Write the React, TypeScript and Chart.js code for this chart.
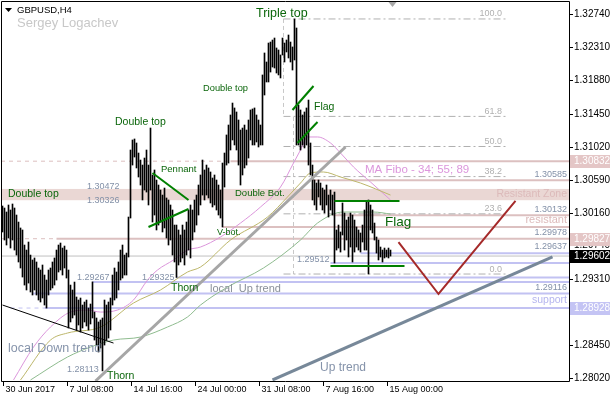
import React, { useEffect, useRef } from "react";
import { Chart, registerables } from "chart.js";

Chart.register(...registerables);

// ---------- data (H4 bars, index 0 = 30 Jun 2017 00:00) ----------
const barHigh = [
  1.30251, 1.30225, 1.30173, 1.30264, 1.30199, 1.30277, 1.30225, 1.30134, 1.30043, 1.29966,
  1.2994, 1.29745, 1.2968, 1.29784, 1.29615, 1.29551, 1.29577, 1.29525, 1.29447, 1.29421,
  1.29486, 1.29356, 1.29291, 1.29421, 1.29447, 1.29525, 1.29577, 1.2968, 1.29745, 1.29771,
  1.29706, 1.29732, 1.2968, 1.29421, 1.29226, 1.29162, 1.29265, 1.29071, 1.29032, 1.29058,
  1.28967, 1.29006, 1.29032, 1.28928, 1.2898, 1.29267, 1.28876, 1.28799, 1.28747, 1.28773,
  1.28799, 1.29032, 1.28967, 1.29006, 1.29058, 1.29356, 1.29447, 1.29395, 1.29525, 1.2968,
  1.29745, 1.29615, 1.29641, 1.30108, 1.30977, 1.31107, 1.3112, 1.31068, 1.30938, 1.30847,
  1.30782, 1.30873, 1.30977, 1.30782, 1.31262, 1.30653, 1.30718, 1.30588, 1.30523, 1.30458,
  1.30393, 1.30484, 1.30355, 1.30329, 1.30264, 1.30199, 1.30004, 1.30004, 1.2994, 1.29875,
  1.30004, 1.2994, 1.30043, 1.30199, 1.30264, 1.30199, 1.30329, 1.30393, 1.30523, 1.30653,
  1.30847, 1.30718, 1.30782, 1.30744, 1.30692, 1.30614, 1.30653, 1.30588, 1.30523, 1.30458,
  1.30808, 1.30938, 1.31172, 1.31301, 1.31431, 1.31586, 1.31522, 1.3147, 1.31366, 1.31236,
  1.31262, 1.31301, 1.31236, 1.31366, 1.31496, 1.31509, 1.31522, 1.31431, 1.31366, 1.31301,
  1.3195, 1.32235, 1.32118, 1.32364, 1.32377, 1.32403, 1.32429, 1.323, 1.32274, 1.32209,
  1.32429, 1.32364, 1.32403, 1.32468, 1.32377, 1.32313, 1.32676, 1.32559, 1.31561, 1.31496,
  1.31431, 1.3147, 1.31522, 1.31625, 1.31068, 1.30782, 1.30588, 1.30549, 1.30588, 1.30549,
  1.30484, 1.30458, 1.30523, 1.30393, 1.30458, 1.30393, 1.30432, 1.2994, 1.30004, 1.29914,
  1.3029, 1.3016, 1.30069, 1.30108, 1.3016, 1.30134, 1.30069, 1.29979, 1.2994, 1.29901,
  1.30004, 1.30199, 1.30303, 1.30329, 1.30264, 1.30199, 1.3003, 1.29849, 1.2981, 1.29719,
  1.2968, 1.29706, 1.2968, 1.29706, 1.2968,
];
const barLow = [
  1.29914, 1.2981, 1.29745, 1.29836, 1.29706, 1.2981, 1.2968, 1.29615, 1.29525, 1.29447,
  1.2933, 1.29226, 1.29162, 1.29252, 1.29136, 1.29097, 1.29162, 1.29097, 1.29032, 1.29006,
  1.29058, 1.28967, 1.28928, 1.29097, 1.29162, 1.29188, 1.29226, 1.29291, 1.29395, 1.29421,
  1.29356, 1.29447, 1.29317, 1.28669, 1.28747, 1.28799, 1.28837, 1.28643, 1.28708, 1.28617,
  1.28669, 1.28747, 1.28695, 1.28643, 1.28721, 1.28799, 1.28513, 1.28448, 1.28358, 1.2841,
  1.28113, 1.28448, 1.28513, 1.28539, 1.28643, 1.28967, 1.29032, 1.29058, 1.29162, 1.29291,
  1.29317, 1.29356, 1.29356, 1.2959, 1.30095, 1.30782, 1.30886, 1.30744, 1.30627, 1.30523,
  1.30329, 1.30458, 1.30432, 1.30264, 1.30458, 1.30043, 1.30134, 1.2994, 1.30004, 1.30043,
  1.29914, 1.29966, 1.29836, 1.29745, 1.2981, 1.29615, 1.29525, 1.29325, 1.29486, 1.29525,
  1.29577, 1.29486, 1.29615, 1.2968, 1.29577, 1.2981, 1.29914, 1.30004, 1.30134, 1.30264,
  1.30393, 1.30329, 1.30393, 1.30355, 1.3029, 1.30238, 1.30264, 1.30199, 1.30134, 1.30095,
  1.29979, 1.30497, 1.30782, 1.30808, 1.30977, 1.31107, 1.31042, 1.30977, 1.30782, 1.30523,
  1.30653, 1.30744, 1.30782, 1.30873, 1.31107, 1.31042, 1.31042, 1.31081, 1.31016, 1.31042,
  1.31042, 1.3169, 1.31859, 1.31859, 1.31988, 1.32053, 1.3204, 1.31975, 1.3195, 1.31911,
  1.32209, 1.32118, 1.32248, 1.3217, 1.32118, 1.32014, 1.32144, 1.31042, 1.31042, 1.30977,
  1.31042, 1.31003, 1.31042, 1.30782, 1.30653, 1.30329, 1.30264, 1.30199, 1.30368, 1.30264,
  1.30199, 1.3016, 1.30264, 1.30108, 1.30199, 1.30134, 1.29512, 1.2968, 1.29706, 1.29654,
  1.29875, 1.2968, 1.2981, 1.2959, 1.29719, 1.29525, 1.29654, 1.29719, 1.2968, 1.29654,
  1.29784, 1.2968, 1.2968, 1.29369, 1.2994, 1.29901, 1.2981, 1.29641, 1.29551, 1.2959,
  1.29525, 1.29577, 1.2959, 1.29577, 1.29602,
];

// moving averages [bar index, value]
const ma34 = [
  [5.5, 1.27995], [15.5, 1.28422], [24, 1.28682], [34, 1.28876], [42.5, 1.28902], [49, 1.28876],
  [57.5, 1.28902], [65.5, 1.29032], [72.5, 1.29291], [77.5, 1.29421], [85.5, 1.29551], [92.5, 1.2968],
  [99, 1.29719], [109, 1.29849], [119, 1.3003], [129, 1.30238], [139, 1.30497], [145.5, 1.30808],
  [149, 1.30977], [152.5, 1.31146], [157.5, 1.31146], [164, 1.31068], [169, 1.30938], [175.5, 1.30757],
  [184, 1.30562], [194, 1.30329],
];
const ma55 = [
  [9, 1.27995], [24, 1.28513], [32.5, 1.28604], [49, 1.28682], [65.5, 1.28993], [79, 1.29162],
  [92.5, 1.29395], [99, 1.2946], [114, 1.2981], [132.5, 1.30108], [142.5, 1.30368], [149, 1.30549],
  [154, 1.30679], [160.5, 1.30692], [169, 1.30627], [179, 1.30549], [194, 1.30393],
];
const ma89 = [
  [14, 1.27995], [32.5, 1.28293], [44, 1.28422], [55.5, 1.28513], [69, 1.28552], [82.5, 1.28682],
  [92.5, 1.28812], [99, 1.28967], [112.5, 1.292], [130.5, 1.29447], [149, 1.2981], [157.5, 1.3003],
  [170.5, 1.30173], [185.5, 1.30173], [194, 1.30147],
];

// axes
const xTickBars = [0, 32, 64, 96, 128, 160, 192];
const xTickLabels = ["30 Jun 2017", "7 Jul 08:00", "14 Jul 16:00", "24 Jul 00:00", "31 Jul 08:00", "7 Aug 16:00", "15 Aug 00:00"];
const yTickValues = [1.3274, 1.3231, 1.3188, 1.3145, 1.3102, 1.3059, 1.3016, 1.2974, 1.2931, 1.2888, 1.2845, 1.2802];
const X_MIN = -0.75;
const X_MAX = 283.25;
const Y_MIN = 1.27982;
const Y_MAX = 1.32896;

// levels
const zoneLow = 1.30326;
const zoneHigh = 1.30472;
const bidPrice = 1.29602;
const supportPrices = [1.29325, 1.29267, 1.29116, 1.28928, 1.29637, 1.29512];
const supportFrom = [87, 45, 15, 21, 179, 164];
const resistPrices = [1.30832, 1.30585, 1.30132, 1.29978, 1.29827];
const resistFrom = [114, 155, 165, 110, 27];
const resistDashPrices = [1.30832, 1.29827];
const resistDashTo = [114, 27];
const supportDashPrices = [1.28928];
const supportDashFrom = [4];
const supportDashTo = [21];

// fibonacci
const fiboHigh = 1.32676;
const fiboLow = 1.29369;
const fiboLevels = [100, 61.8, 50, 38.2, 23.6, 0];
const fiboFrom = 140.5;
const fiboTo = 251.5;
const fiboGuideA = [[140.5, 1.32676], [140.5, 1.31405]];
const fiboGuideB = [[145.5, 1.31405], [145.5, 1.29369]];

// drawn lines
const trendSteep = [[46.5, 1.27982], [171.5, 1.31016]];
const trendLong = [[135, 1.27995], [275, 1.2959]];
const trendDown = [[0, 1.28967], [55.5, 1.28474]];
const vPath = [[198, 1.29784], [218, 1.2911], [256.5, 1.30316]];
const pennantTop = [[75, 1.30679], [93, 1.30329]];
const pennantBottom = [[73, 1.29979], [93, 1.30212]];
const flag1Top = [[145, 1.31496], [155.5, 1.31807]];
const flag1Bottom = [[147.5, 1.31068], [157.5, 1.3134]];
const flag2Top = [[166, 1.30316], [198.5, 1.30316]];
const flag2Bottom = [[164, 1.29473], [201, 1.29473]];

// right-side price boxes
const boxValues = [1.30832, 1.29827, 1.29602, 1.28928];

// ---------- styles ----------
const FONT = '"Liberation Sans", Arial, sans-serif';
const GREEN = "#0b660b";
const SLATE = "#8593aa";
const PLUM = "#dc96dc";
const ROSE = "#dcc0c0";
const ROSE_TXT = "#dcbaba";
const LAV = "#c2c2f2";
const LAV_TXT = "#b4b4ee";
const NUM = "#8391a8";
const FIBO = "#b0b0b0";

type Note = [string, number, number, number, string, CanvasTextAlign?];
const notes: Note[] = [
  ["Triple top", 126.75, 1.3274, 12.5, GREEN],
  ["Double top", 2.75, 1.30406, 10.5, GREEN],
  ["Double top", 56.25, 1.3134, 10.5, GREEN],
  ["Double top", 100.25, 1.31781, 9.3, GREEN],
  ["Pennant", 79.25, 1.30731, 9.5, GREEN],
  ["Flag", 155.75, 1.31535, 10.5, GREEN],
  ["Flag", 191.25, 1.30043, 13.5, GREEN],
  ["Double Bot.", 116.25, 1.30419, 9.5, GREEN],
  ["V-bot.", 107.25, 1.29901, 9, GREEN],
  ["Thorn", 84.25, 1.29188, 10.5, GREEN],
  ["Thorn", 52.25, 1.28046, 10.5, GREEN],
  ["local Down trend", 2.75, 1.28397, 12.5, SLATE],
  ["local  Up trend", 103.75, 1.29175, 11, "#8a909a"],
  ["Up trend", 158.75, 1.2815, 12, SLATE],
  ["MA Fibo - 34; 55; 89", 181.25, 1.30718, 11.5, PLUM],
  ["Resistant Zone", 282.25, 1.30406, 10.5, ROSE_TXT, "right"],
  ["resistant", 282.25, 1.30069, 11, ROSE_TXT, "right"],
  ["support", 282.25, 1.29032, 10.5, LAV_TXT, "right"],
  ["1.30472", 42.25, 1.3051, 9, NUM],
  ["1.30326", 42.25, 1.30316, 9, NUM],
  ["1.29267", 37.25, 1.2933, 9, NUM],
  ["1.28113", 32.25, 1.28137, 9, NUM],
  ["1.29325", 69.75, 1.2933, 9, NUM],
  ["1.29512", 147.25, 1.29551, 9, NUM],
  ["1.30585", 282.25, 1.30653, 9, NUM, "right"],
  ["1.30132", 282.25, 1.30199, 9, NUM, "right"],
  ["1.29978", 282.25, 1.29901, 9, NUM, "right"],
  ["1.29637", 282.25, 1.29732, 9, NUM, "right"],
  ["1.29116", 282.25, 1.29188, 9, NUM, "right"],
];
const boxColors = ["#e4c6c6", "#e4c6c6", "#000000", "#c4c4f4"];

export default function App() {
  const ref = useRef<HTMLCanvasElement>(null);

  useEffect(() => {
    const canvas = ref.current;
    if (!canvas) return;

    const pts = (a: number[][]) => a.map(([x, y]) => ({ x, y }));
    const seg = (data: number[][], color: string, width: number, dash: number[] = [], order = 1): any => ({
      type: "line",
      data: pts(data),
      borderColor: color,
      borderWidth: width,
      borderDash: dash,
      pointRadius: 0,
      fill: false,
      tension: 0,
      order,
      clip: 0,
      borderCapStyle: "butt",
    });
    const ma = (data: number[][], color: string): any => ({
      ...seg(data, color, 1, [], 6),
      cubicInterpolationMode: "monotone",
    });

    const datasets: any[] = [];
    // horizontal levels (back)
    datasets.push(seg([[X_MIN, bidPrice], [X_MAX, bidPrice]], "#c0c0c0", 1, [], 30));
    resistPrices.forEach((p, i) => datasets.push(seg([[resistFrom[i], p], [X_MAX, p]], ROSE, 2, [], 25)));
    resistDashPrices.forEach((p, i) => datasets.push(seg([[X_MIN, p], [resistDashTo[i], p]], ROSE, 1, [4, 4], 25)));
    supportPrices.forEach((p, i) => datasets.push(seg([[supportFrom[i], p], [X_MAX, p]], LAV, 2, [], 24)));
    supportDashPrices.forEach((p, i) =>
      datasets.push(seg([[supportDashFrom[i], p], [supportDashTo[i], p]], LAV, 1, [4, 4], 24)),
    );
    // fibonacci
    fiboLevels.forEach((lv) => {
      const p = fiboLow + ((fiboHigh - fiboLow) * lv) / 100;
      datasets.push(seg([[fiboFrom, p], [fiboTo, p]], FIBO, 1, [7, 3, 2, 3], 22));
    });
    datasets.push(seg(fiboGuideA, "#c8c8c8", 1, [4, 3], 22));
    datasets.push(seg(fiboGuideB, "#c8c8c8", 1, [4, 3], 22));
    // moving averages
    datasets.push(ma(ma89, "#8fbc8f"));
    datasets.push(ma(ma55, "#bdb76b"));
    datasets.push(ma(ma34, PLUM));
    // bars
    datasets.push({
      type: "bar",
      data: barHigh.map((h, i) => ({ x: i, y: [barLow[i], h] })),
      backgroundColor: "#000000",
      borderWidth: 0,
      barThickness: 1,
      grouped: false,
      order: 5,
      clip: 0,
    });
    // trend lines & patterns (front)
    datasets.push(seg(trendSteep, "#a6a6a6", 3, [], 2));
    datasets.push(seg(trendLong, "#778899", 3, [], 2));
    datasets.push(seg(trendDown, "#000000", 1, [], 2));
    datasets.push(seg(vPath, "#a52a2a", 2, [], 1));
    datasets.push(seg(pennantTop, "#008000", 2, [], 1));
    datasets.push(seg(pennantBottom, "#008000", 2, [], 1));
    datasets.push(seg(flag1Top, "#008000", 2, [], 1));
    datasets.push(seg(flag1Bottom, "#008000", 2, [], 1));
    datasets.push(seg(flag2Top, "#008000", 2, [], 1));
    datasets.push(seg(flag2Bottom, "#008000", 2, [], 1));

    const deco = {
      id: "deco",
      beforeDraw(chart: any) {
        const { ctx, width, height } = chart;
        ctx.save();
        ctx.fillStyle = "#ffffff";
        ctx.fillRect(0, 0, width, height);
        ctx.restore();
      },
      beforeDatasetsDraw(chart: any) {
        const { ctx, chartArea: a, scales } = chart;
        const y = scales.y;
        const y1 = y.getPixelForValue(zoneHigh);
        const y2 = y.getPixelForValue(zoneLow);
        ctx.save();
        ctx.fillStyle = "#ead7d4";
        ctx.fillRect(a.left, y1, a.right - a.left, y2 - y1);
        ctx.restore();
      },
      afterDatasetsDraw(chart: any) {
        const { ctx, chartArea: a, scales } = chart;
        const x = scales.x;
        const y = scales.y;
        ctx.save();
        // notes
        ctx.textBaseline = "middle";
        notes.forEach(([t, xi, pv, size, color, align]) => {
          ctx.font = `${size}px ${FONT}`;
          ctx.fillStyle = color;
          ctx.textAlign = align || "left";
          ctx.fillText(t, x.getPixelForValue(xi), y.getPixelForValue(pv));
        });
        // fibo labels
        ctx.font = `9px ${FONT}`;
        ctx.fillStyle = FIBO;
        ctx.textAlign = "right";
        ctx.textBaseline = "bottom";
        fiboLevels.forEach((lv) => {
          const p = fiboLow + ((fiboHigh - fiboLow) * lv) / 100;
          ctx.fillText(lv.toFixed(1), x.getPixelForValue(249.75), y.getPixelForValue(p) - 0.5);
        });
        // title
        ctx.textAlign = "left";
        ctx.textBaseline = "middle";
        ctx.fillStyle = "#000";
        ctx.beginPath();
        ctx.moveTo(5, 8);
        ctx.lineTo(12, 8);
        ctx.lineTo(8.5, 12);
        ctx.closePath();
        ctx.fill();
        ctx.font = `9.5px ${FONT}`;
        ctx.fillText("GBPUSD,H4", 17, 10);
        ctx.font = `13px ${FONT}`;
        ctx.fillStyle = "#c8c8c8";
        ctx.fillText("Sergey Logachev", 17, 23);
        // shift marker
        const sx = x.getPixelForValue(195);
        ctx.fillStyle = "#a8a8a8";
        ctx.beginPath();
        ctx.moveTo(sx - 4, a.top);
        ctx.lineTo(sx + 4, a.top);
        ctx.lineTo(sx, a.top + 5);
        ctx.closePath();
        ctx.fill();
        // frame
        ctx.strokeStyle = "#000";
        ctx.lineWidth = 1;
        ctx.beginPath();
        ctx.moveTo(a.left + 0.5, a.top - 0.5);
        ctx.lineTo(a.right + 0.5, a.top - 0.5);
        ctx.lineTo(a.right + 0.5, a.bottom + 0.5);
        ctx.lineTo(a.left + 0.5, a.bottom + 0.5);
        ctx.closePath();
        ctx.stroke();
        // y axis
        ctx.font = `10px ${FONT}`;
        ctx.fillStyle = "#000";
        ctx.textAlign = "left";
        ctx.textBaseline = "middle";
        yTickValues.forEach((v) => {
          const py = Math.round(y.getPixelForValue(v)) + 0.5;
          ctx.beginPath();
          ctx.moveTo(a.right + 1, py);
          ctx.lineTo(a.right + 4, py);
          ctx.stroke();
          ctx.fillText(v.toFixed(5), a.right + 5, py);
        });
        // boxes
        boxValues.forEach((v, i) => {
          const py = Math.round(y.getPixelForValue(v));
          ctx.fillStyle = boxColors[i];
          ctx.fillRect(a.right + 1, py - 6, 41, 13);
          ctx.fillStyle = "#ffffff";
          ctx.fillText(v.toFixed(5), a.right + 5, py + 0.5);
        });
        // x axis
        ctx.font = `9px ${FONT}`;
        ctx.fillStyle = "#000";
        ctx.textBaseline = "middle";
        xTickBars.forEach((b, i) => {
          const px = Math.round(x.getPixelForValue(b)) + 0.5;
          ctx.beginPath();
          ctx.moveTo(px, a.bottom + 1);
          ctx.lineTo(px, a.bottom + 5);
          ctx.stroke();
          ctx.fillText(xTickLabels[i], px + 2, a.bottom + 9);
        });
        ctx.restore();
      },
    };

    const chart = new Chart(canvas, {
      type: "line",
      data: { datasets },
      options: {
        responsive: false,
        animation: false,
        events: [],
        layout: { padding: { left: 1, top: 2, right: 41, bottom: 19 } },
        plugins: { legend: { display: false }, tooltip: { enabled: false } },
        scales: {
          x: { type: "linear", min: X_MIN, max: X_MAX, display: false, offset: false, bounds: "data" },
          y: { type: "linear", min: Y_MIN, max: Y_MAX, display: false, bounds: "data" },
        },
      },
      plugins: [deco],
    } as any);

    return () => chart.destroy();
  }, []);

  return (
    <div style={{ position: "absolute", left: 0, top: 0, width: 610, height: 400 }}>
      <canvas ref={ref} width={610} height={400} style={{ display: "block" }} />
    </div>
  );
}
